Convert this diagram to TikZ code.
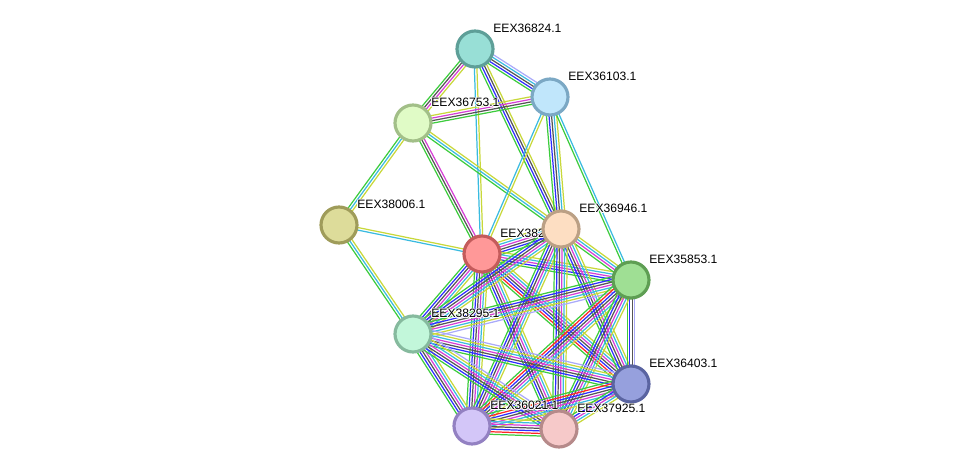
\documentclass[tikz,border=0pt]{standalone}
\usepackage{fontspec}
\setmainfont{Liberation Sans}
\usepackage{xcolor}
\usetikzlibrary{calc, backgrounds}

% evidence colours
\definecolor{nb}{HTML}{3DCC3D}
\definecolor{fu}{HTML}{FF2626}
\definecolor{co}{HTML}{2E2EFF}
\definecolor{cx}{HTML}{555555}
\definecolor{ex}{HTML}{D63FD6}
\definecolor{db}{HTML}{3ABBE0}
\definecolor{tm}{HTML}{C8D83A}
\definecolor{ho}{HTML}{AAAAFA}

% protein colours
\definecolor{f824}{HTML}{98DFD6}\definecolor{b824}{HTML}{5E9F98}
\definecolor{f103}{HTML}{C0E6FB}\definecolor{b103}{HTML}{7BA8C4}
\definecolor{f753}{HTML}{E0FBC6}\definecolor{b753}{HTML}{A2BF88}
\definecolor{f006}{HTML}{DDDC9A}\definecolor{b006}{HTML}{9F9C5A}
\definecolor{f382}{HTML}{FF9898}\definecolor{b382}{HTML}{C45B5B}
\definecolor{f946}{HTML}{FDDEC2}\definecolor{b946}{HTML}{BBA085}
\definecolor{f853}{HTML}{9FDF94}\definecolor{b853}{HTML}{5E9E53}
\definecolor{f295}{HTML}{C2F7DA}\definecolor{b295}{HTML}{86BA9E}
\definecolor{f403}{HTML}{96A0DD}\definecolor{b403}{HTML}{5A64A1}
\definecolor{f021}{HTML}{D3C6F8}\definecolor{b021}{HTML}{9381C2}
\definecolor{f925}{HTML}{F6C9C9}\definecolor{b925}{HTML}{B68A8A}

% white halo round a label
\newcommand{\halo}[1]{\leavevmode\rlap{\color{white}%
  \rlap{\kern-0.5pt#1}\rlap{\kern0.5pt#1}\rlap{\raisebox{0.5pt}{#1}}\rlap{\raisebox{-0.5pt}{#1}}%
  \rlap{\kern-0.4pt\raisebox{0.4pt}{#1}}\rlap{\kern0.4pt\raisebox{0.4pt}{#1}}%
  \rlap{\kern-0.4pt\raisebox{-0.4pt}{#1}}\rlap{\kern0.4pt\raisebox{-0.4pt}{#1}}}#1}

% bundle of parallel evidence lines between two proteins
\newcommand{\sedge}[3]{%
  \def\nlines{0}%
  \foreach \col in {#3}{\pgfmathtruncatemacro\tmpn{\nlines+1}\global\let\nlines\tmpn}%
  \foreach \col [count=\i] in {#3}{%
    \pgfmathsetmacro\off{(\i-(\nlines+1)/2)*1.45}%
    \draw[edge, draw=\col] ($(#1.center)!\off pt!90:(#2.center)$) -- ($(#2.center)!\off pt!-90:(#1.center)$);
  }}

\begin{document}
\begin{tikzpicture}[x=0.02cm, y=-0.02cm,
    prot/.style={circle, minimum size=0.72cm, inner sep=0pt, line width=1.8pt},
    edge/.style={line width=0.7pt},
    lbl/.style={anchor=base west, inner sep=0pt, font=\fontsize{6.9}{8}\selectfont}]
    \useasboundingbox (0,0) rectangle (976,475);

    % Proteins
    \foreach \n/\x/\y/\t in {824/475/49/EEX36824.1, 103/550/97/EEX36103.1,
        753/413/123/EEX36753.1, 006/339/225/EEX38006.1, 382/482/254/EEX382,
        946/561/229/EEX36946.1, 853/631/280/EEX35853.1, 295/413/334/EEX38295.1,
        403/631/384/EEX36403.1, 021/472/426/EEX36021.1, 925/559/429/EEX37925.1}{
        \node[prot, fill=f\n, draw=b\n] (c\n) at (\x,\y) {};
        \node[lbl] (l\n) at ([shift={(18,-16)}]c\n.center) {\halo{\t}};
    }

    % Evidence lines
    \begin{scope}[on background layer]
    \sedge{c824}{c103}{nb,co,cx,db,ho}
    \sedge{c824}{c753}{nb,cx,ex,tm}
    \sedge{c824}{c382}{db,tm}
    \sedge{c824}{c946}{nb,co,cx,tm}
    \sedge{c753}{c103}{nb,cx,ex,tm}
    \sedge{c753}{c006}{nb,db,tm}
    \sedge{c753}{c382}{nb,cx,ex}
    \sedge{c753}{c946}{nb,db,tm}
    \sedge{c103}{c382}{db,tm}
    \sedge{c103}{c946}{nb,co,cx,db,tm}
    \sedge{c103}{c853}{nb,db}
    \sedge{c006}{c382}{db,tm}
    \sedge{c006}{c295}{nb,db,tm}
    \sedge{c382}{c946}{nb,co,cx,ex,db,tm}
    \sedge{c382}{c853}{nb,co,ex,db,tm}
    \sedge{c382}{c295}{nb,co,cx,ex,db,tm}
    \sedge{c382}{c403}{nb,fu,co,cx,ex,db,tm}
    \sedge{c382}{c021}{nb,co,cx,ex,db,tm}
    \sedge{c382}{c925}{nb,co,cx,ex,db,tm}
    \sedge{c946}{c853}{nb,ex,db,tm}
    \sedge{c946}{c295}{nb,co,cx,ex,db,tm}
    \sedge{c946}{c403}{nb,co,cx,ex,db,tm}
    \sedge{c946}{c021}{nb,co,cx,ex,db,tm}
    \sedge{c946}{c925}{nb,co,cx,ex,db,tm}
    \sedge{c853}{c295}{nb,co,cx,ex,db,tm,ho}
    \sedge{c853}{c403}{nb,co,cx,ho}
    \sedge{c853}{c021}{nb,fu,co,cx,ex,db,tm}
    \sedge{c853}{c925}{nb,co,cx,ex,db,tm}
    \sedge{c295}{c403}{nb,co,cx,ex,db,tm,ho}
    \sedge{c295}{c021}{nb,co,cx,ex,db,tm}
    \sedge{c295}{c925}{nb,co,cx,ex,db,tm,ho}
    \sedge{c403}{c021}{nb,fu,co,cx,ex,db,tm}
    \sedge{c403}{c925}{nb,co,ex,db,tm}
    \sedge{c021}{c925}{nb,fu,co,cx,ex,db,tm}
    \end{scope}
\end{tikzpicture}
\end{document}
